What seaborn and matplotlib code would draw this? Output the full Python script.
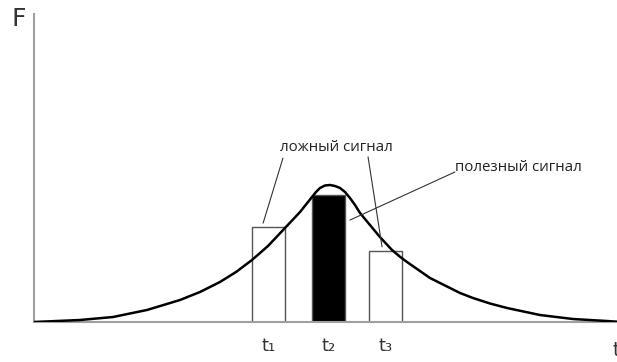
"""
Signal sketch: bell-shaped response F(t) with three sampled gates t1, t2, t3.
"""

import matplotlib
matplotlib.use("Agg")
import matplotlib.pyplot as plt
import pandas as pd
import seaborn as sns

# curve (t axis 0..100, F axis 0..100)
curve_t = [0.0, 7.9, 13.55, 19.38, 25.04, 28.47, 31.90, 34.65, 37.39, 40.14,
           43.05, 45.63, 47.68, 48.37, 49.06, 49.91, 50.77, 51.63, 52.49,
           53.34, 54.20, 55.06, 55.92, 57.63, 59.33, 61.41, 62.70, 63.98,
           67.92, 70.50, 73.07, 75.30, 78.22, 81.13, 86.79, 92.45, 98.28, 100.0]
curve_f = [0.0, 0.65, 1.62, 3.90, 7.14, 9.74, 12.99, 16.23, 20.13, 24.68,
           30.52, 35.71, 40.58, 42.21, 43.51, 44.32, 44.48, 44.16, 43.51,
           42.21, 40.26, 37.99, 35.39, 31.49, 27.60, 23.38, 21.30, 19.48,
           14.29, 11.85, 9.42, 7.79, 6.00, 4.55, 2.27, 0.97, 0.32, 0.10]

# sampling gates
gate_labels = ["t₁", "t₂", "t₃"]
gate_pos = [40.2, 50.5, 60.3]
gate_height = [30.8, 41.2, 23.1]
gate_width = [5.7, 5.7, 5.8]
gate_fill = ["white", "black", "white"]

sns.set_style("white")
plt.rcParams["font.family"] = ["DejaVu Sans"]

fig = plt.figure(figsize=(6.17, 3.62), dpi=100)
ax = fig.add_axes([0.0551, 0.1105, 0.9449, 0.8508])

ax.bar(gate_pos, gate_height, width=gate_width, color=gate_fill,
       edgecolor="#555555", linewidth=1.0, zorder=2)

df = pd.DataFrame({"t": curve_t, "F": curve_f})
sns.lineplot(data=df, x="t", y="F", ax=ax, color="black", linewidth=1.8,
             zorder=3)

ax.set_xlim(0, 100)
ax.set_ylim(0, 100)
ax.set_xlabel("")
ax.set_ylabel("")
ax.set_xticks(gate_pos)
ax.set_xticklabels(gate_labels, fontsize=13, color="#333333")
ax.tick_params(axis="x", length=0, pad=11)
ax.set_yticks([])
for side in ["top", "right"]:
    ax.spines[side].set_visible(False)
for side in ["left", "bottom"]:
    ax.spines[side].set_color("#a0a0a0")
    ax.spines[side].set_linewidth(1.5)

# annotations
label_font = ["Open Sans", "DejaVu Sans"]
ax.text(51.9, 56.5, "ложный сигнал", ha="center", va="center",
        fontsize=10.8, family=label_font, color="#222222")
ax.plot([42.7, 39.3], [53.2, 32.1], color="#333333", linewidth=0.8, zorder=4)
ax.plot([57.3, 59.7], [53.6, 24.4], color="#333333", linewidth=0.8, zorder=4)
ax.text(83.1, 50.3, "полезный сигнал", ha="center", va="center",
        fontsize=10.8, family=label_font, color="#222222")
ax.plot([72.2, 54.2], [48.7, 33.1], color="#333333", linewidth=0.8, zorder=4)

fig.text(0.031, 0.948, "F", ha="center", va="center", fontsize=18,
         color="#333333")
fig.text(0.992, 0.033, "t", ha="left", va="center", fontsize=14,
         color="#333333")

fig.savefig("out.png", dpi=100)
plt.close(fig)
